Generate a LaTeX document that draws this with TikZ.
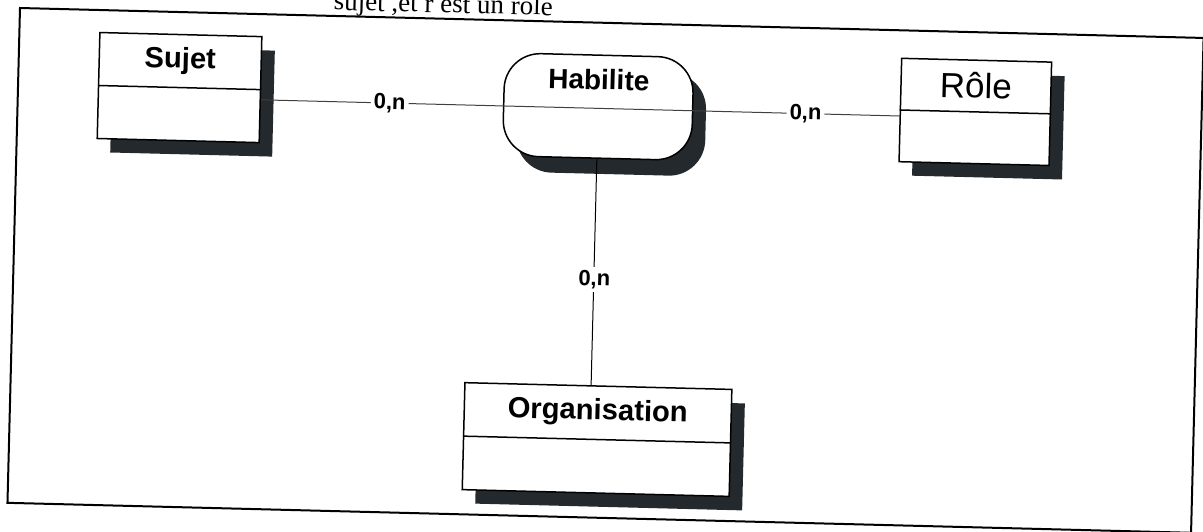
\documentclass[tikz,border=0pt]{standalone}
\usepackage{fontspec}
\newfontfamily\arial{Liberation Sans}
\newfontfamily\capfont{Liberation Serif}
\usetikzlibrary{shadows,calc}
\definecolor{shade}{HTML}{23292D}
\begin{document}
\begin{tikzpicture}[x=0.5pt,y=0.5pt,
  frame/.style={draw=black, line width=1pt},
  entity/.style={draw=black, line width=0.75pt, fill=white, inner sep=0pt,
    drop shadow={shadow xshift=6.5pt, shadow yshift=-7pt, fill=shade, opacity=1}},
  relation/.style={draw=black, line width=0.75pt, fill=white, inner sep=0pt,
    rounded corners=18pt,
    drop shadow={shadow xshift=6.5pt, shadow yshift=-8pt, fill=shade, opacity=1}},
  divider/.style={draw=black, line width=0.75pt},
  boldname/.style={inner sep=0pt, font=\arial\bfseries\fontsize{14.6}{17}\selectfont},
  plainname/.style={inner sep=0pt, font=\arial\fontsize{17.5}{20}\selectfont},
  link/.style={draw=black!75, line width=0.5pt},
  card/.style={fill=white, inner sep=1.5pt, font=\arial\bfseries\fontsize{11}{13}\selectfont}
]
\clip (0,0) rectangle (1203,-531);
\begin{scope}[shift={(20,-8)}, rotate=-1.45, transform shape]
  % caption line of the page, cut by the top edge
  \node[anchor=base east, inner sep=0pt, font=\capfont\fontsize{13.5}{16}\selectfont]
    (caption) at (533,6) {sujet ,et r est un rôle};

  % outer frame
  \draw[frame] (0,0) rectangle (1184,-495);

  % entities
  \node[entity, minimum width=81pt, minimum height=53pt] (sujet) at (161.5,-75.5) {};
  \draw[divider] (sujet.west) -- (sujet.east);
  \node[boldname] (sujetname) at ($(sujet.north)!0.5!(sujet.center)$) {Sujet};

  \node[entity, minimum width=75pt, minimum height=51.7pt] (role) at (957.7,-79.7) {};
  \draw[divider] (role.west) -- (role.east);
  \node[plainname] (rolename) at ($(role.north)!0.5!(role.center)$) {Rôle};

  \node[entity, minimum width=133.5pt, minimum height=53.5pt] (organisation) at (587.8,-416.8) {};
  \draw[divider] (organisation.west) -- (organisation.east);
  \node[boldname] (organisationname)
    at ($(organisation.north)!0.5!(organisation.center)$) {Organisation};

  % association
  \node[relation, minimum width=94.5pt, minimum height=51.5pt] (habilite) at (580.5,-84) {};
  \node[boldname, font=\arial\bfseries\fontsize{14}{17}\selectfont] (habilitename)
    at ([yshift=-12.5pt]habilite.north) {Habilite};

  % connectors
  \coordinate (hline) at (0,-85.7);
  \draw[link] ($(sujet.north east)!(hline)!(sujet.south east)$)
           -- ($(role.north west)!(hline)!(role.south west)$);
  \draw[draw=black, line width=0.5pt] (habilite.south)
           -- ($(organisation.north west)!(habilite.south)!(organisation.north east)$);

  % cardinalities
  \node[card] (cardsujet) at (372,-86) {0,n};
  \node[card] (cardrole) at (788,-86) {0,n};
  \node[card] (cardorg) at (581,-257) {0,n};
\end{scope}
\end{tikzpicture}
\end{document}
